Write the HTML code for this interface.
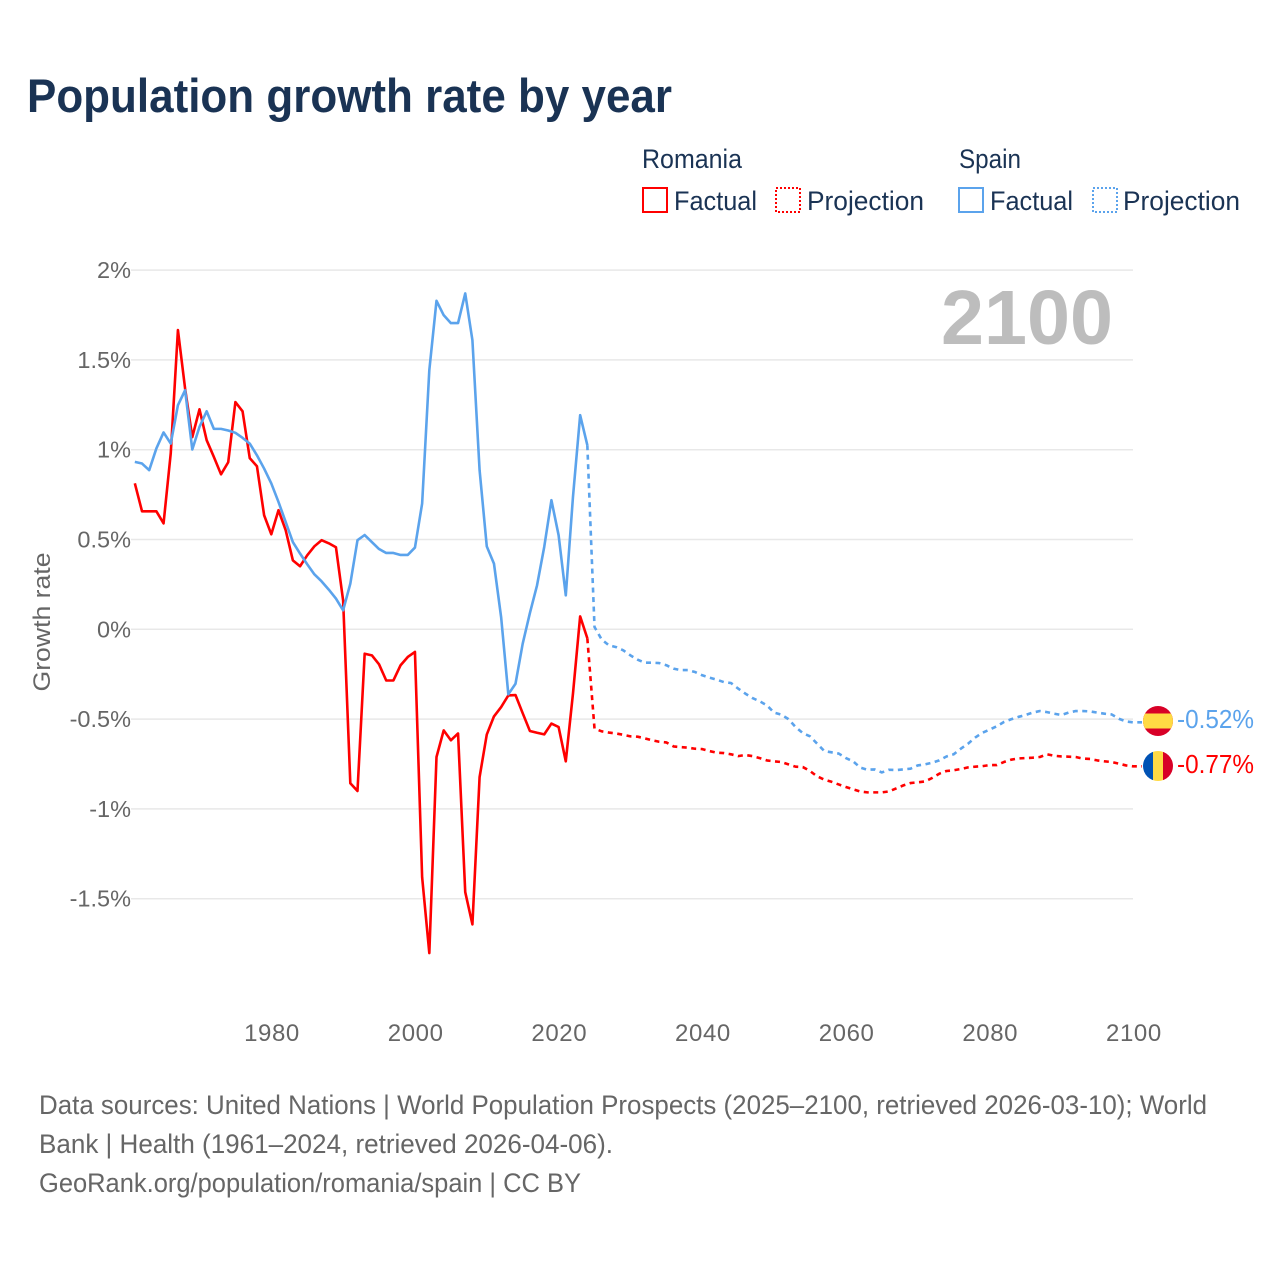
<!DOCTYPE html>
<html lang="en">
<head>
<meta charset="utf-8">
<title>Population growth rate by year</title>
<style>
html,body{margin:0;padding:0;background:#fff;}
svg{display:block;}
text{font-family:"Liberation Sans",sans-serif;}
</style>
</head>
<body>
<svg id="chart" width="1280" height="1280" viewBox="0 0 1280 1280" xmlns="http://www.w3.org/2000/svg">
<rect x="0" y="0" width="1280" height="1280" fill="#fff"/>
<text x="27" y="112" font-size="47" font-weight="bold" fill="#1a3354" textLength="645" lengthAdjust="spacingAndGlyphs">Population growth rate by year</text>

<g font-size="26.5" fill="#1a3354">
<text x="642" y="168" textLength="100" lengthAdjust="spacingAndGlyphs">Romania</text>
<text x="959" y="168" textLength="62" lengthAdjust="spacingAndGlyphs">Spain</text>
<rect x="643" y="188" width="24" height="24" fill="none" stroke="#ff0000" stroke-width="2"/>
<text x="674" y="210" textLength="83" lengthAdjust="spacingAndGlyphs">Factual</text>
<rect x="776" y="188" width="24" height="24" fill="none" stroke="#ff0000" stroke-width="2" stroke-dasharray="2 2"/>
<text x="807" y="210" textLength="117" lengthAdjust="spacingAndGlyphs">Projection</text>
<rect x="959" y="188" width="24" height="24" fill="none" stroke="#5ba3ec" stroke-width="2"/>
<text x="990" y="210" textLength="83" lengthAdjust="spacingAndGlyphs">Factual</text>
<rect x="1093" y="188" width="24" height="24" fill="none" stroke="#5ba3ec" stroke-width="2" stroke-dasharray="2 2"/>
<text x="1123" y="210" textLength="117" lengthAdjust="spacingAndGlyphs">Projection</text>
</g>

<g id="grid"></g>
<g id="yticks"></g>
<g id="xticks"></g>

<text x="0" y="0" transform="translate(50,622) rotate(-90)" text-anchor="middle" font-size="24" fill="#666" textLength="139" lengthAdjust="spacingAndGlyphs">Growth rate</text>
<text x="941" y="344" font-size="77" font-weight="bold" fill="#bdbdbd" textLength="172" lengthAdjust="spacingAndGlyphs">2100</text>

<g id="series"></g>

<g>
<clipPath id="clip-es"><circle cx="1158" cy="721" r="15"/></clipPath>
<g clip-path="url(#clip-es)">
<rect x="1143" y="706" width="30" height="30" fill="#d80027"/>
<rect x="1143" y="713.5" width="30" height="15" fill="#ffda44"/>
</g>
</g>
<g>
<clipPath id="clip-ro"><circle cx="1158" cy="766" r="15"/></clipPath>
<g clip-path="url(#clip-ro)">
<rect x="1143" y="751" width="10" height="30" fill="#0052b4"/>
<rect x="1153" y="751" width="10" height="30" fill="#ffda44"/>
<rect x="1163" y="751" width="10" height="30" fill="#d80027"/>
</g>
</g>
<text x="1177" y="728" font-size="25.5" fill="#5ba3ec" textLength="77" lengthAdjust="spacingAndGlyphs">-0.52%</text>
<text x="1177" y="773" font-size="25.5" fill="#ff0000" textLength="77" lengthAdjust="spacingAndGlyphs">-0.77%</text>

<g font-size="26.5" fill="#666">
<text x="39" y="1114" textLength="1168" lengthAdjust="spacingAndGlyphs">Data sources: United Nations | World Population Prospects (2025–2100, retrieved 2026-03-10); World</text>
<text x="39" y="1153" textLength="574" lengthAdjust="spacingAndGlyphs">Bank | Health (1961–2024, retrieved 2026-04-06).</text>
<text x="39" y="1192" textLength="542" lengthAdjust="spacingAndGlyphs">GeoRank.org/population/romania/spain | CC BY</text>
</g>
</svg>
<script>
const yTickValues = [2, 1.5, 1, 0.5, 0, -0.5, -1, -1.5];
const yTickLabels = ["2%", "1.5%", "1%", "0.5%", "0%", "-0.5%", "-1%", "-1.5%"];
const xTickYears = [1980, 2000, 2020, 2040, 2060, 2080, 2100];
const factualStartYear = 1961;
const projectionStartYear = 2024;

const romaniaFactual = [0.813,0.657,0.657,0.657,0.59,0.98,1.666,1.34,1.07,1.225,1.053,0.96,0.863,0.93,1.265,1.214,0.953,0.908,0.635,0.529,0.663,0.552,0.384,0.351,0.412,0.462,0.496,0.479,0.457,0.16,-0.857,-0.9,-0.136,-0.145,-0.195,-0.285,-0.285,-0.2,-0.154,-0.126,-1.38,-1.803,-0.711,-0.563,-0.618,-0.58,-1.463,-1.643,-0.823,-0.586,-0.485,-0.433,-0.368,-0.366,-0.467,-0.566,-0.576,-0.585,-0.525,-0.544,-0.735,-0.358,0.072,-0.05];
const spainFactual = [0.932,0.923,0.886,1.007,1.096,1.034,1.248,1.331,1.001,1.127,1.214,1.116,1.116,1.107,1.094,1.066,1.034,0.969,0.895,0.812,0.709,0.598,0.486,0.422,0.362,0.306,0.267,0.221,0.171,0.106,0.254,0.496,0.525,0.486,0.447,0.425,0.425,0.414,0.414,0.455,0.7,1.443,1.829,1.749,1.705,1.705,1.87,1.61,0.886,0.462,0.366,0.067,-0.362,-0.303,-0.08,0.09,0.245,0.459,0.719,0.524,0.189,0.737,1.192,1.025];
const romaniaProjection = [-0.05,-0.553,-0.568,-0.575,-0.58,-0.587,-0.596,-0.598,-0.607,-0.618,-0.626,-0.63,-0.652,-0.656,-0.659,-0.665,-0.667,-0.678,-0.687,-0.689,-0.696,-0.706,-0.7,-0.706,-0.717,-0.73,-0.735,-0.739,-0.752,-0.765,-0.767,-0.789,-0.819,-0.837,-0.849,-0.864,-0.878,-0.891,-0.903,-0.908,-0.908,-0.908,-0.903,-0.886,-0.869,-0.856,-0.852,-0.847,-0.828,-0.804,-0.789,-0.785,-0.778,-0.769,-0.765,-0.762,-0.756,-0.756,-0.739,-0.726,-0.719,-0.717,-0.715,-0.711,-0.696,-0.704,-0.708,-0.709,-0.711,-0.72,-0.722,-0.73,-0.735,-0.739,-0.748,-0.758,-0.763];
const spainProjection = [1.025,0.013,-0.057,-0.089,-0.099,-0.117,-0.145,-0.169,-0.186,-0.186,-0.188,-0.2,-0.219,-0.227,-0.227,-0.238,-0.256,-0.269,-0.28,-0.294,-0.299,-0.33,-0.358,-0.383,-0.401,-0.423,-0.464,-0.475,-0.5,-0.544,-0.578,-0.596,-0.637,-0.678,-0.685,-0.692,-0.717,-0.735,-0.77,-0.782,-0.78,-0.797,-0.782,-0.784,-0.78,-0.776,-0.758,-0.752,-0.743,-0.73,-0.708,-0.696,-0.665,-0.637,-0.603,-0.576,-0.559,-0.54,-0.516,-0.501,-0.488,-0.477,-0.464,-0.455,-0.461,-0.47,-0.477,-0.464,-0.455,-0.455,-0.457,-0.464,-0.47,-0.474,-0.498,-0.513,-0.518];

const SVG_NS = "http://www.w3.org/2000/svg";
const RED = "#ff0000";
const BLUE = "#5ba3ec";
function xScale(year) { return 271.3 + (year - 1980) * 7.1825; }
function yScale(v) { return 629.3 - v * 179.6; }
function pathFrom(startYear, values) {
  return values.map(function (v, i) {
    return (i ? "L" : "M") + xScale(startYear + i).toFixed(2) + " " + yScale(v).toFixed(2);
  }).join("");
}
const gridGroup = document.getElementById("grid");
const yTickGroup = document.getElementById("yticks");
const xTickGroup = document.getElementById("xticks");
const seriesGroup = document.getElementById("series");

yTickValues.forEach(function (v, i) {
  const line = document.createElementNS(SVG_NS, "line");
  
  
  line.setAttribute("x1", 131);
  line.setAttribute("x2", 1133);
  line.setAttribute("y1", yScale(v));
  line.setAttribute("y2", yScale(v));
  line.setAttribute("stroke", "#e8e8e8");
  line.setAttribute("stroke-width", "1.5");
  gridGroup.appendChild(line);
  const label = document.createElementNS(SVG_NS, "text");
  
  
  label.setAttribute("x", 131);
  label.setAttribute("y", yScale(v) + 8);
  label.setAttribute("text-anchor", "end");
  label.setAttribute("font-size", "23.5");
  label.setAttribute("fill", "#666");
  label.textContent = yTickLabels[i];
  yTickGroup.appendChild(label);
});
xTickYears.forEach(function (year) {
  const label = document.createElementNS(SVG_NS, "text");
  
  
  label.setAttribute("x", 272 + (year - 1980) * 7.1825);
  label.setAttribute("y", 1041);
  label.setAttribute("text-anchor", "middle");
  label.setAttribute("font-size", "24");
  label.setAttribute("letter-spacing", "0.6");
  label.setAttribute("fill", "#666");
  label.textContent = String(year);
  xTickGroup.appendChild(label);
});

function addLine(name, startYear, values, color, dashed) {
  const p = document.createElementNS(SVG_NS, "path");
  
  
  let d = pathFrom(startYear, values);
  if (dashed) d += "L1142 " + yScale(values[values.length - 1]).toFixed(2);
  p.setAttribute("d", d);
  p.setAttribute("fill", "none");
  p.setAttribute("stroke", color);
  p.setAttribute("stroke-width", "2.6");
  p.setAttribute("stroke-linejoin", "round");
  if (dashed) p.setAttribute("stroke-dasharray", "5 4.5");
  seriesGroup.appendChild(p);
}
addLine("romania-factual-line", factualStartYear, romaniaFactual, RED, false);
addLine("romania-projection-line", projectionStartYear, romaniaProjection, RED, true);
addLine("spain-factual-line", factualStartYear, spainFactual, BLUE, false);
addLine("spain-projection-line", projectionStartYear, spainProjection, BLUE, true);
</script>
</body>
</html>
